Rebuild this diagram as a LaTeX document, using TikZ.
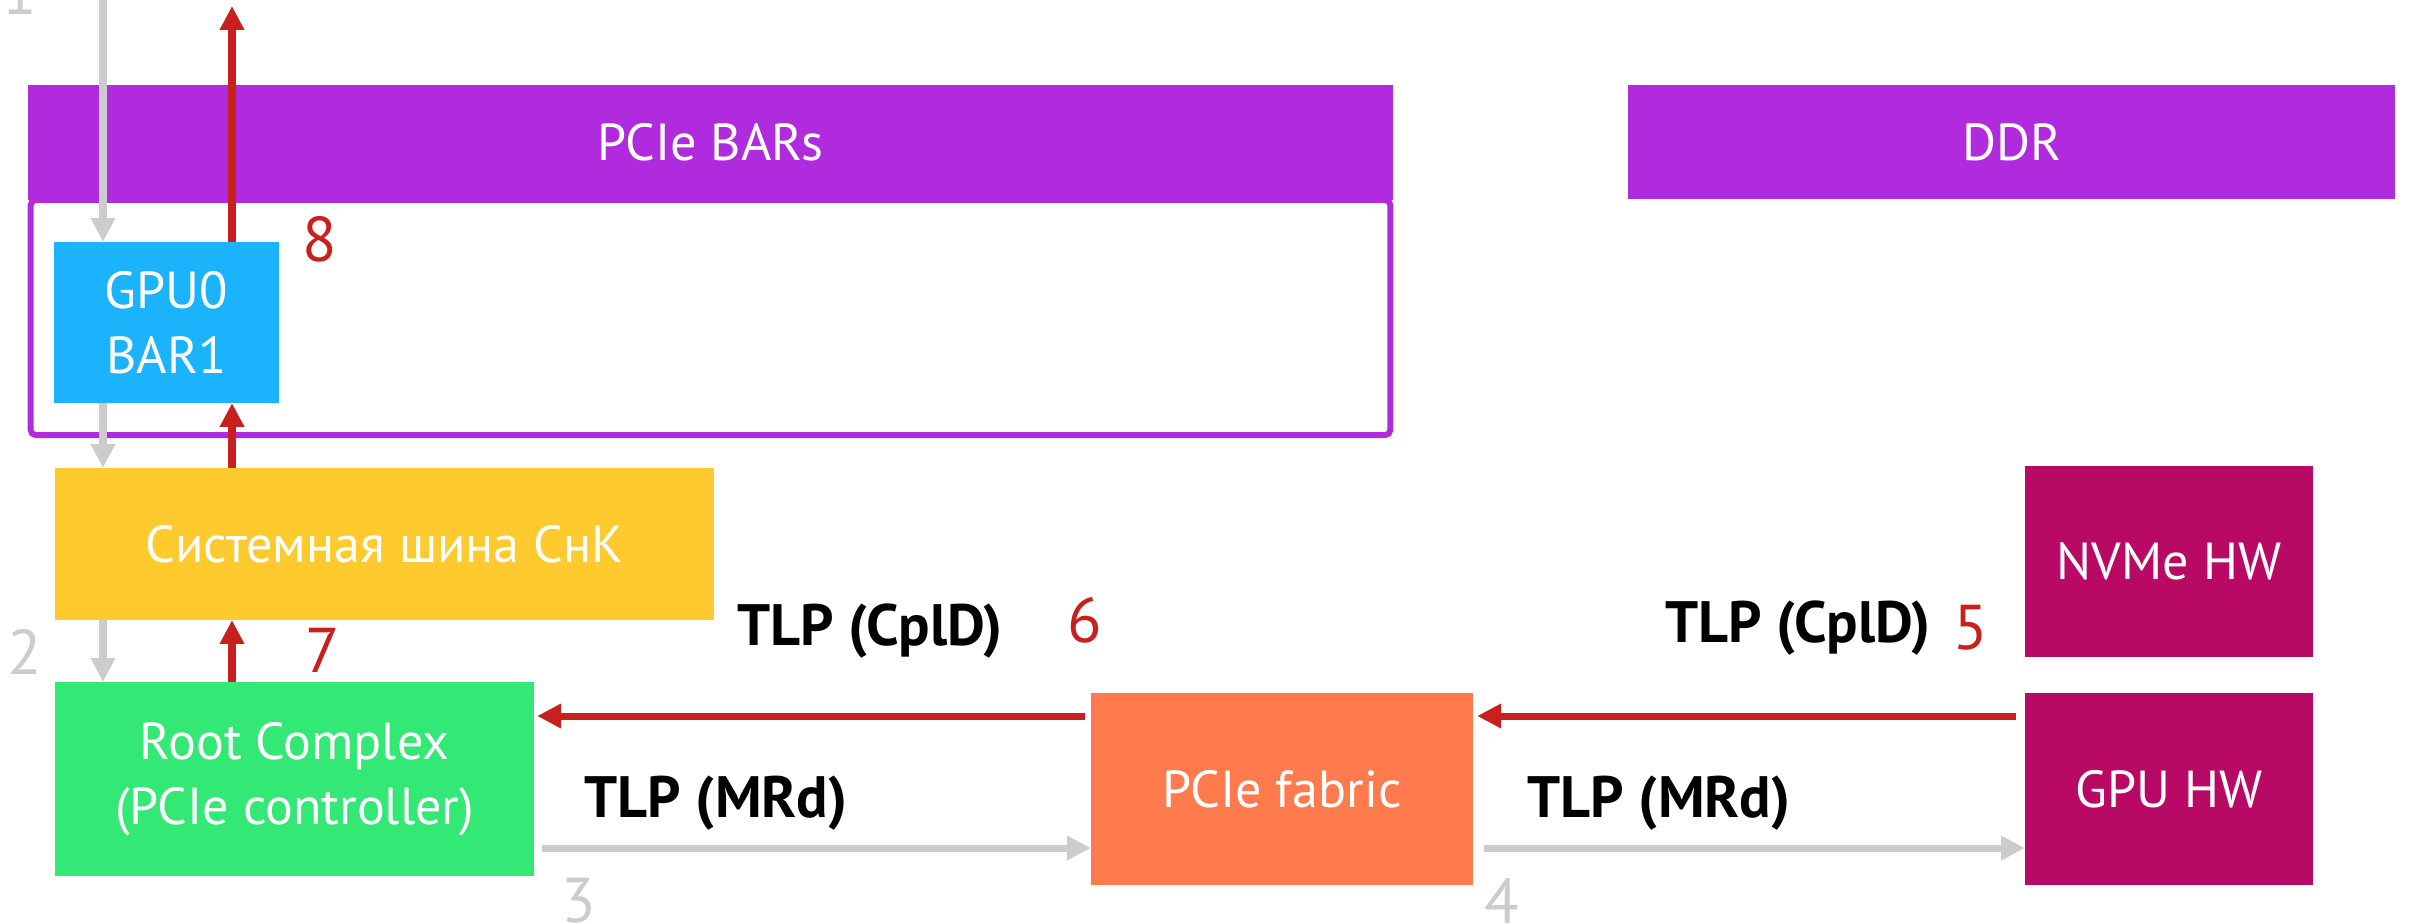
\documentclass[tikz,border=0pt]{standalone}
\usepackage{fontspec}
\setmainfont{PT Sans}
\usetikzlibrary{arrows.meta}

\definecolor{barpurple}{HTML}{AF2BDD}
\definecolor{barblue}{HTML}{1BB3FC}
\definecolor{busyellow}{HTML}{FFCA2E}
\definecolor{rcgreen}{HTML}{34E875}
\definecolor{faborange}{HTML}{FF7B4D}
\definecolor{devmagenta}{HTML}{B80A65}
\definecolor{arrred}{HTML}{C8201E}
\definecolor{arrgray}{HTML}{CCCCCC}

\tikzset{
  blk/.style={inner sep=0pt, outer sep=0pt, text=white, align=center,
    font=\fontsize{14.8}{18.4}\selectfont},
  tlp/.style={font=\fontsize{16.6}{19}\selectfont\bfseries, text=black, inner sep=0pt},
  stepnum/.style={font=\fontsize{18}{20}\selectfont, inner sep=0pt},
  grayarr/.style={draw=arrgray, line width=2pt, -{Triangle[width=6.6pt,length=6.8pt]}},
  redarr/.style={draw=arrred, line width=2pt, -{Triangle[width=6.6pt,length=6.8pt]}},
}

\begin{document}
\begin{tikzpicture}[x=0.01cm, y=-0.01cm]
  \useasboundingbox (0,0) rectangle (2413,923);

  % memory map: PCIe BAR window with its frame, and DDR
  \node[draw=barpurple, line width=1.7pt, rounded corners=1.5pt, inner sep=0pt,
        minimum width=13.59cm, minimum height=2.35cm] (frame) at (710.5,317.5) {};
  \node[blk, fill=barpurple, minimum width=13.65cm, minimum height=1.15cm] (bars) at (710.5,142.5) {PCIe BARs};
  \node[blk, fill=barpurple, minimum width=7.67cm, minimum height=1.14cm] (ddr) at (2011.5,142) {DDR};

  % blocks
  \node[blk, fill=barblue, minimum width=2.25cm, minimum height=1.61cm] (gpu0) at (166.5,322.5) {GPU0\\BAR1};
  \node[blk, fill=busyellow, minimum width=6.59cm, minimum height=1.52cm] (bus) at (384.5,544) {Системная шина СнК};
  \node[blk, fill=rcgreen, minimum width=4.79cm, minimum height=1.94cm] (rc) at (294.5,779) {Root Complex\\(PCIe controller)};
  \node[blk, fill=faborange, minimum width=3.82cm, minimum height=1.92cm] (fab) at (1282,789) {PCIe fabric};
  \node[blk, fill=devmagenta, minimum width=2.88cm, minimum height=1.91cm] (nvme) at (2169,561.5) {NVMe HW};
  \node[blk, fill=devmagenta, minimum width=2.88cm, minimum height=1.92cm] (gpuhw) at (2169,789) {GPU HW};

  % reference points for the connector tracks
  \coordinate (gtop) at (103,-5);
  \coordinate (rtop) at (232,6);
  \coordinate (redy) at (0,716);
  \coordinate (grayy) at (0,848);

  % request path (gray)
  \draw[grayarr] (gtop) -- (gpu0.north -| gtop);
  \draw[grayarr] (gpu0.south -| gtop) -- (bus.north -| gtop);
  \draw[grayarr] (bus.south -| gtop) -- (rc.north -| gtop);
  \draw[grayarr, shorten <=0.08cm] (rc.east |- grayy) -- (fab.west |- grayy);
  \draw[grayarr, shorten <=0.11cm] (fab.east |- grayy) -- (gpuhw.west |- grayy);

  % completion path (red)
  \draw[redarr, shorten <=0.09cm, shorten >=0.04cm] (gpuhw.west |- redy) -- (fab.east |- redy);
  \draw[redarr, shorten <=0.06cm, shorten >=0.03cm] (fab.west |- redy) -- (rc.east |- redy);
  \draw[redarr] (rc.north -| rtop) -- (bus.south -| rtop);
  \draw[redarr] (bus.north -| rtop) -- (gpu0.south -| rtop);
  \draw[redarr] (gpu0.north -| rtop) -- (rtop);

  % TLP labels
  \node[tlp] (cpl1) at (870,631) {TLP (CplD)};
  \node[tlp] (cpl2) at (1798,628) {TLP (CplD)};
  \node[tlp] (mrd1) at (716,803) {TLP (MRd)};
  \node[tlp] (mrd2) at (1659,803) {TLP (MRd)};

  % step numbers
  \node[stepnum, text=arrgray, anchor=base] (n1) at (20,14) {1};
  \node[stepnum, text=arrgray] (n2) at (25,652) {2};
  \node[stepnum, text=arrgray] (n3) at (579,901) {3};
  \node[stepnum, text=arrgray] (n4) at (1502,901) {4};
  \node[stepnum, text=arrred] (n5) at (1971,628) {5};
  \node[stepnum, text=arrred] (n6) at (1085,620) {6};
  \node[stepnum, text=arrred] (n7) at (323,650) {7};
  \node[stepnum, text=arrred] (n8) at (320,239) {8};
\end{tikzpicture}
\end{document}
